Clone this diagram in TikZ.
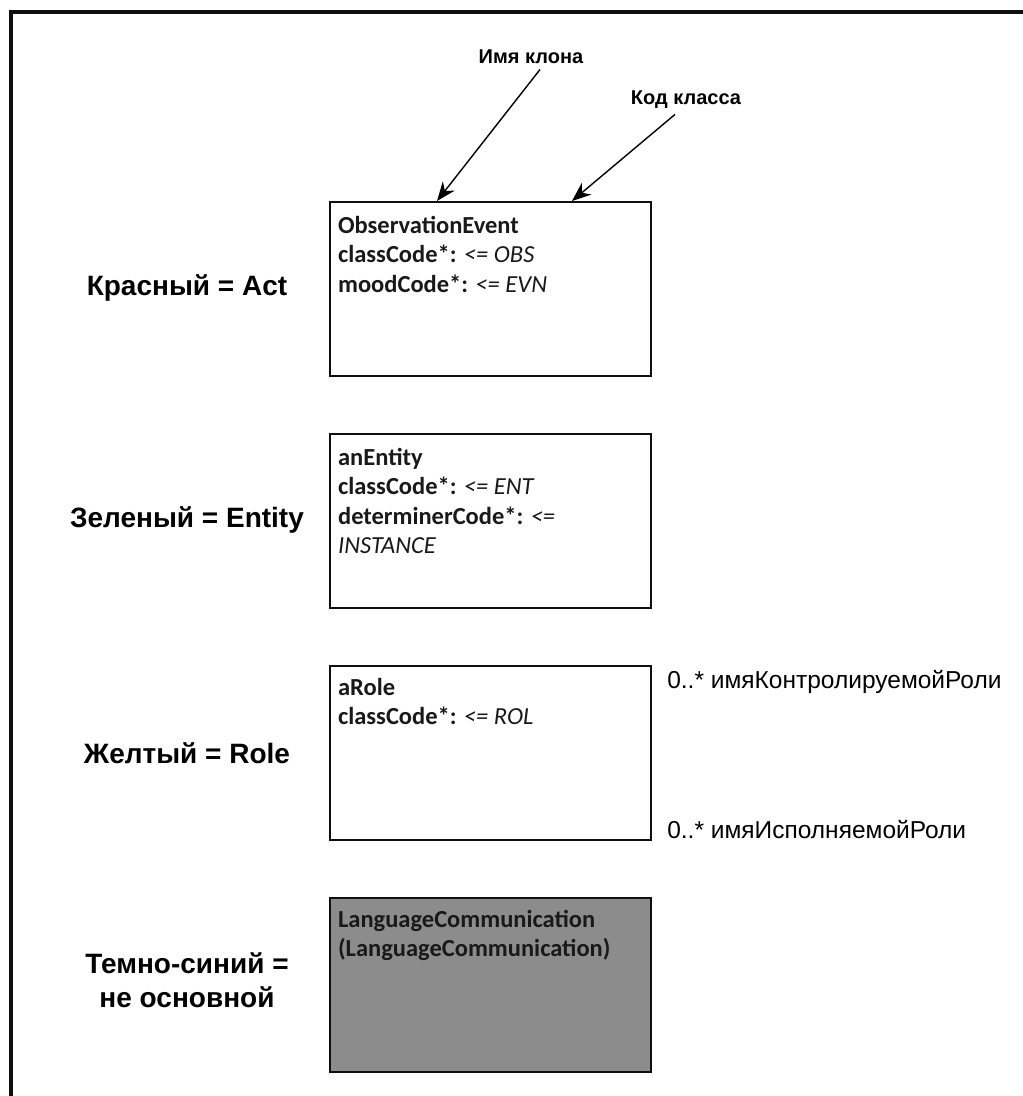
\documentclass[tikz,border=0pt]{standalone}
\usepackage{fontspec}
\setmainfont{Liberation Sans}
\newfontfamily\calibri{Carlito}
\usetikzlibrary{arrows.meta, positioning, calc}
\definecolor{frameblack}{RGB}{15,15,15}
\definecolor{otherfill}{RGB}{140,140,140}
\definecolor{boxtextcol}{RGB}{25,25,25}

\tikzset{
  classbox/.style={draw=frameblack, line width=2.2pt, minimum width=321pt,
    minimum height=174pt, inner sep=0pt},
  boxtext/.style={anchor=north west, align=left, inner sep=0pt,
    text=boxtextcol, font=\calibri\fontsize{24.5}{29.5}\selectfont\bfseries},
  legendlabel/.style={align=center, font=\fontsize{28}{34}\selectfont\bfseries},
  notelabel/.style={font=\fontsize{20}{24}\selectfont\bfseries},
  cardlabel/.style={anchor=west, inner sep=0pt, font=\fontsize{24.5}{28}\selectfont},
  pointer/.style={-{Stealth[length=19pt,width=15pt]}, line width=1.4pt}
}

\begin{document}
\begin{tikzpicture}[x=1pt, y=-1pt]
  \useasboundingbox (0,0) rectangle (1023,1096);
  % outer frame (left and top only)
  \draw[frameblack, line width=4pt] (11,1096) -- (11,12) -- (1023,12);

  % class boxes
  \node[classbox, fill=white] (act) at (490.5,289) {};
  \node[classbox, fill=white] (entity) at (490.5,521) {};
  \node[classbox, fill=white] (role) at (490.5,753) {};
  \node[classbox, fill=otherfill] (other) at (490.5,985) {};

  \node[boxtext] (acttext) at ([shift={(9,15)}]act.north west)
    {ObservationEvent\\
     classCode*: {\mdseries\itshape <= OBS}\\
     moodCode*: {\mdseries\itshape <= EVN}};
  \node[boxtext] (entitytext) at ([shift={(9,15)}]entity.north west)
    {anEntity\\
     classCode*: {\mdseries\itshape <= ENT}\\
     determinerCode*: {\mdseries\itshape <=}\\
     {\mdseries\itshape INSTANCE}};
  \node[boxtext] (roletext) at ([shift={(9,13)}]role.north west)
    {aRole\\
     classCode*: {\mdseries\itshape <= ROL}};
  \node[boxtext] (othertext) at ([shift={(9,13)}]other.north west)
    {LanguageCommunication\\
     (LanguageCommunication)};

  % colour legend
  \node[legendlabel] (actlabel) at (187,288) {Красный = Act};
  \node[legendlabel] (entitylabel) at (187,520) {Зеленый = Entity};
  \node[legendlabel] (rolelabel) at (187,753) {Желтый = Role};
  \node[legendlabel] (otherlabel) at (187,980) {Темно-синий =\\не основной};

  % notes with arrows
  \node[notelabel] (clonename) at (531,57) {Имя клона};
  \node[notelabel] (classcode) at (686,100) {Код класса};
  \coordinate (clonetip) at (437,201);
  \coordinate (codetip) at (572,201);
  \draw[pointer] ([xshift=9pt,yshift=-2pt]clonename.south) -- (clonetip);
  \draw[pointer] ([xshift=-11pt,yshift=-2pt]classcode.south) -- (codetip);

  % role cardinalities
  \node[cardlabel] (scoper) at ([xshift=15pt,yshift=-17pt]role.north east) {0..* имяКонтролируемойРоли};
  \node[cardlabel] (player) at ([xshift=15pt,yshift=12pt]role.south east) {0..* имяИсполняемойРоли};
\end{tikzpicture}
\end{document}
